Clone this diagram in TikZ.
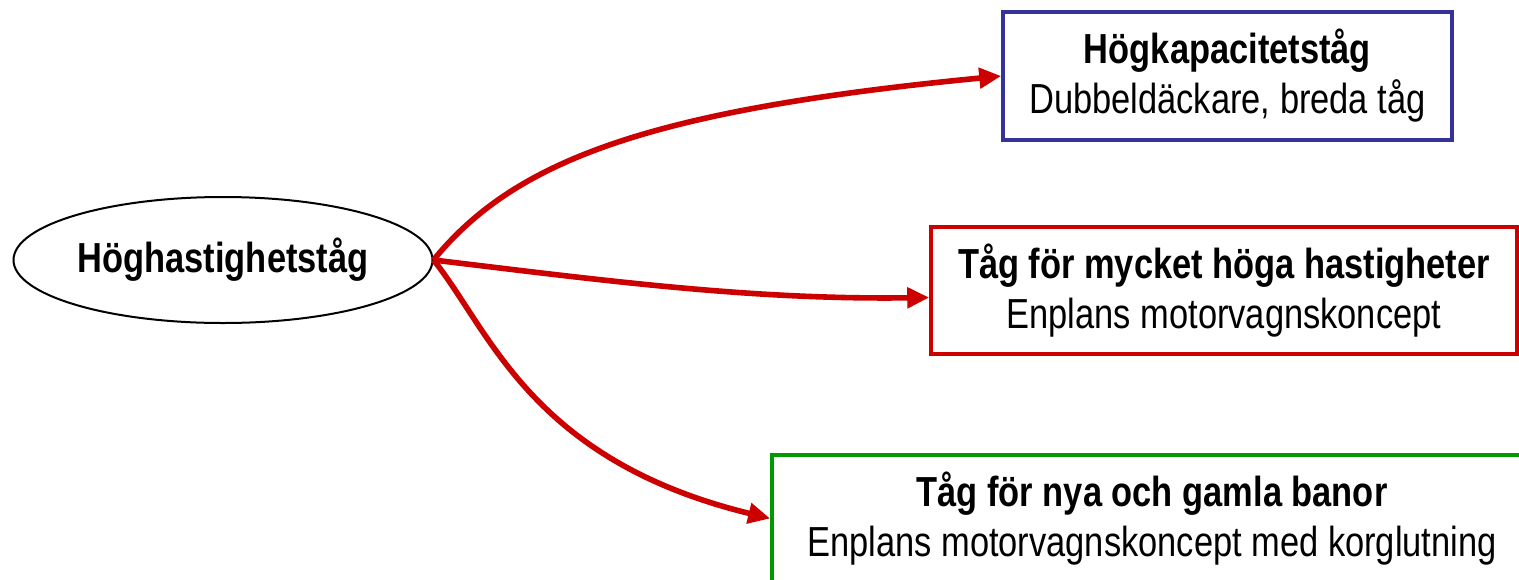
\documentclass[tikz,border=0pt]{standalone}
\usepackage{fontspec}
\setmainfont[FakeStretch=0.82]{Liberation Sans}
\usetikzlibrary{shapes.geometric,arrows.meta}

\definecolor{pilrod}{HTML}{CC0000}
\definecolor{boxbla}{HTML}{333399}
\definecolor{boxgron}{HTML}{009900}

\tikzset{
	tagbox/.style={draw, line width=1.8pt, align=center, inner sep=0pt,
		font=\fontsize{21}{25}\selectfont},
	pil/.style={pilrod, line width=2.8pt, -{Triangle[length=11pt,width=10pt]}}
}

\begin{document}
\begin{tikzpicture}[x=0.5pt,y=-0.5pt]
		\useasboundingbox (0,0) rectangle (1519,579);
		\fill[white] (0,0) rectangle (1519,579);

		\node[draw, ellipse, line width=1pt, inner sep=0pt, minimum width=209.5pt, minimum height=63pt,
			font=\fontsize{21}{25}\selectfont\bfseries] (hs) at (223,260) {Höghastighetståg};

		\node[tagbox, boxbla, text=black, minimum width=224.5pt, minimum height=64pt]
			(hk) at (1227.5,76) {\textbf{Högkapacitetståg}\\Dubbeldäckare, breda tåg};
		\node[tagbox, pilrod, text=black, minimum width=293pt, minimum height=63.5pt]
			(hv) at (1224,290.5) {\textbf{Tåg för mycket höga hastigheter}\\Enplans motorvagnskoncept};
		\node[tagbox, boxgron, text=black, minimum width=380pt, minimum height=63.5pt]
			(nb) at (1152,518.5) {\textbf{Tåg för nya och gamla banor}\\Enplans motorvagnskoncept med korglutning};

		% pilar
		\draw[pil] (hs.east) .. controls (515,160) and (650,110) .. (hk.west);
		\draw[pil] (hs.east) .. controls (600,280) and (750,300) .. ([yshift=-3.5pt]hv.west);
		\draw[pil] (hs.east) .. controls (490,330) and (530,460) .. (nb.west);
	\end{tikzpicture}
\end{document}
